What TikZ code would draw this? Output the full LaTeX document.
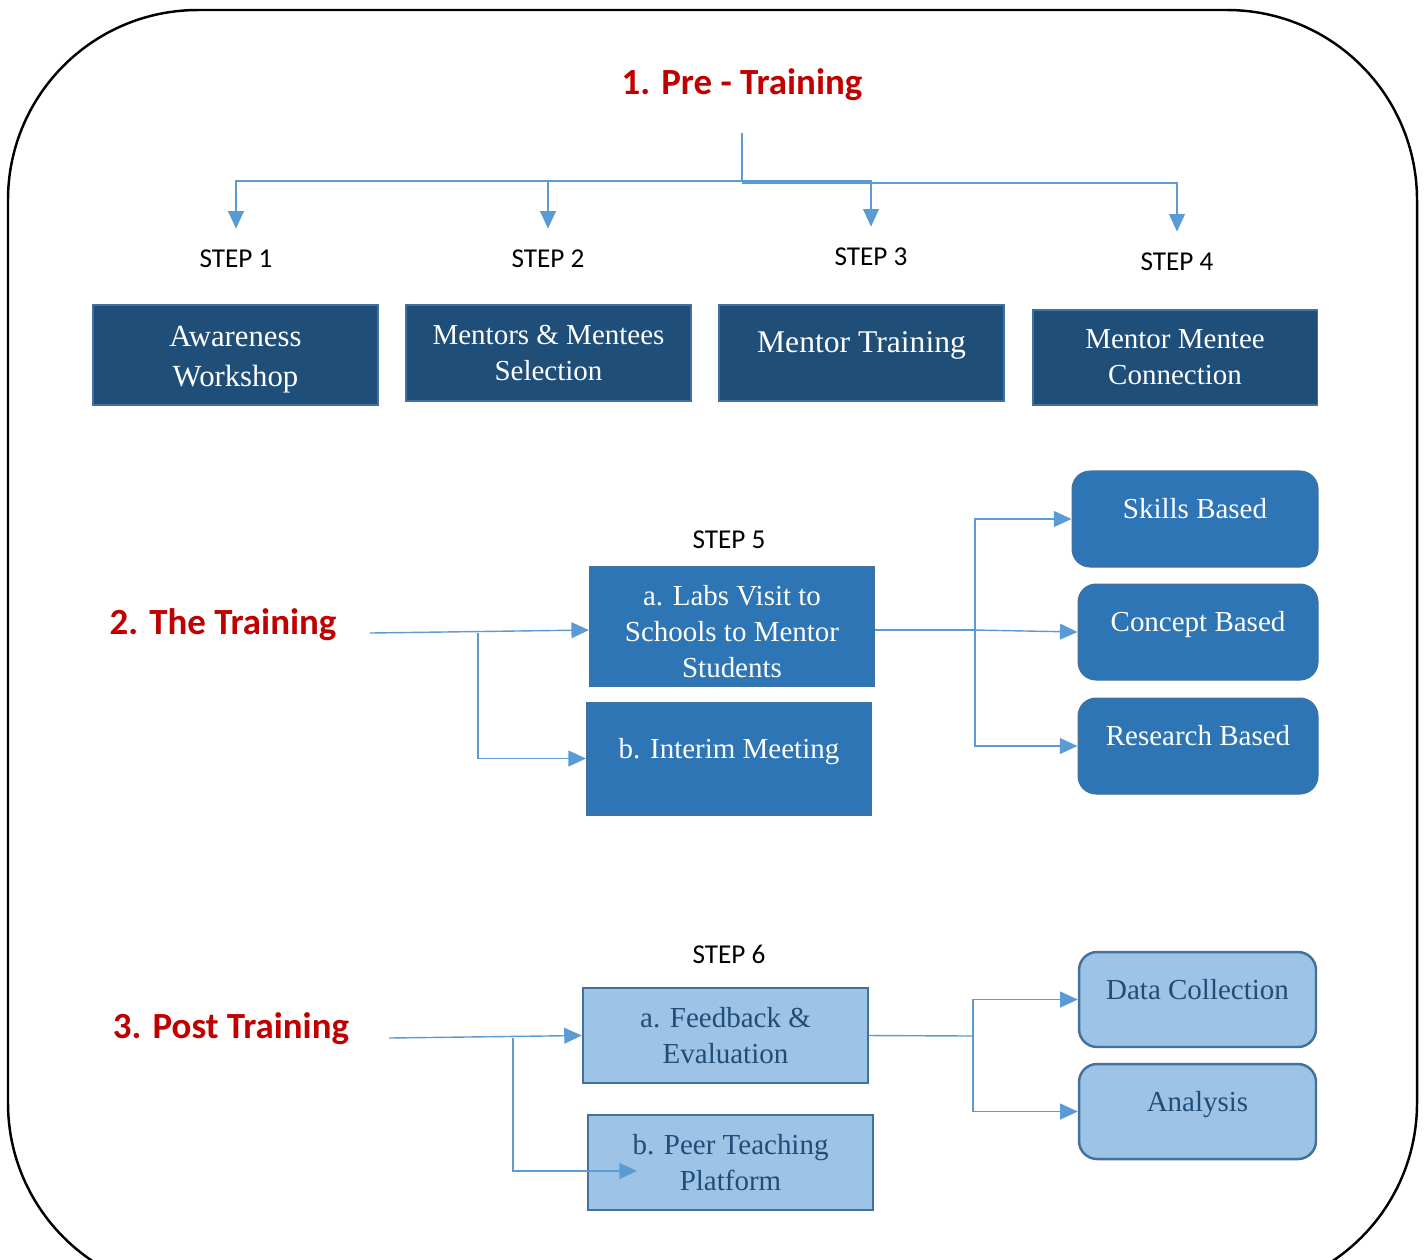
\documentclass[tikz,border=0pt]{standalone}
\usepackage{fontspec}
\setmainfont{Liberation Serif}
\newfontfamily\carlito{Carlito}
\usetikzlibrary{positioning, arrows.meta, calc}
\definecolor{navy}{HTML}{1F4E79}
\definecolor{midBlue}{HTML}{2E75B6}
\definecolor{paleBlue}{HTML}{9DC3E6}
\definecolor{edgeBlue}{HTML}{41719C}
\definecolor{lineBlue}{HTML}{5B9BD5}
\definecolor{titleRed}{HTML}{C00000}

\begin{document}
\begin{tikzpicture}[x=0.02cm,y=-0.02cm]
    \tikzset{hd/.style={font=\carlito\bfseries\fontsize{21}{25}\selectfont,text=titleRed},
      st/.style={font=\carlito\fontsize{15.5}{18}\selectfont,inner sep=0pt},
      box/.style={minimum width=5.7cm,minimum height=1.92cm,align=center,inner sep=2pt,font=\fontsize{16.5}{20.5}\selectfont},
      nb/.style={box,fill=navy,draw=edgeBlue,line width=1.1pt,text=white},
      mb/.style={box,fill=midBlue,draw=edgeBlue,line width=0.6pt,text=white},
      mr/.style={mb,rounded corners=0.36cm,minimum width=4.8cm},
      lb/.style={box,fill=paleBlue,draw=edgeBlue,line width=1.4pt,text=navy},
      lr/.style={lb,rounded corners=0.36cm,minimum width=4.74cm},
      hi/.style={text depth=12pt},
      arr/.style={-{Triangle[length=10pt,width=9pt]},draw=lineBlue,line width=0.8pt},
      ln/.style={draw=lineBlue,line width=0.8pt}}
    \clip (0,0) rectangle (1425,1259);
    \draw[line width=1.4pt,rounded corners=3.8cm] (8,10) rectangle (1417,1293);
    \node[hd] (pre) at (742,85) {1. Pre - Training};
    \node[st] (s1) at (236,259) {STEP 1};
    \node[st] (s2) at (548,259) {STEP 2};
    \node[st] (s3) at (871,257) {STEP 3};
    \node[st] (s4) at (1177,262) {STEP 4};
    \node[nb,minimum height=2cm,text height=40pt,font=\fontsize{17.5}{22.7}\selectfont] (aware) at (235.5,355) {Awareness\\Workshop};
    \node[nb] (sel) at (548.5,353) {Mentors \& Mentees\\Selection};
    \node[nb,hi,font=\fontsize{18}{22}\selectfont] (mtrain) at (861.5,353) {Mentor Training};
    \node[nb,minimum height=1.9cm] (conn) at (1175,357.5) {Mentor Mentee\\Connection};
    \node[hd] (tr) at (223,625) {2. The Training};
    \node[st] (s5) at (729,540) {STEP 5};
    \node[mb,minimum height=2.4cm,text height=59pt] (labs) at (732,626) {a. Labs Visit to\\Schools to Mentor\\Students};
    \node[mb,hi,minimum height=2.26cm] (meet) at (729,758.5) {b. Interim Meeting};
    \node[mr,hi,minimum width=4.92cm] (skill) at (1195,519) {Skills Based};
    \node[mr,hi] (concept) at (1198,632) {Concept Based};
    \node[mr,hi] (research) at (1198,746) {Research Based};
    \node[hd] (post) at (231,1029) {3. Post Training};
    \node[st] (s6) at (729,954) {STEP 6};
    \node[lb,minimum height=1.9cm] (feed) at (725.5,1035.5) {a. Feedback \&\\Evaluation};
    \node[lb,minimum height=1.9cm] (peer) at (730.5,1162.5) {b. Peer Teaching\\Platform};
    \node[lr,hi,minimum height=1.9cm] (data) at (1197.5,999.5) {Data Collection};
    \node[lr,hi,minimum height=1.9cm] (anal) at (1197.5,1111.5) {Analysis};
    \coordinate (ptop) at (742,133);
    \coordinate (pfork) at (742,181);
    \coordinate (pfork4) at (742,183);
    \draw[ln] (ptop) -- (pfork);
    \foreach \s in {s1,s2,s3}
      \draw[arr,shorten >=12pt] (pfork) -| (\s);
    \draw[arr,shorten >=12pt] (pfork4) -| (s4);
    \coordinate (tout) at (370,633);
    \coordinate (tfork) at (478,633);
    \coordinate (lfork) at (975,630);
    \draw[arr] (tout) -- ([yshift=-4*0.02cm]labs.west);
    \draw[arr] (tfork) |- (meet.west);
    \draw[ln] (labs.east |- lfork) -- (lfork);
    \draw[arr] (lfork) |- (skill.west);
    \draw[arr] (lfork) -- (concept.west);
    \draw[arr] (lfork) |- (research.west);
    \coordinate (pout) at (389,1038);
    \coordinate (pfk) at (513,1038);
    \coordinate (peerin) at (637,1171);
    \coordinate (ffork) at (973,1036);
    \draw[arr] (pout) -- (feed.west);
    \draw[arr] (pfk) |- (peerin);
    \draw[ln] (feed.east) -- (ffork);
    \draw[arr] (ffork) |- (data.west);
    \draw[arr] (ffork) |- (anal.west);
\end{tikzpicture}
\end{document}
